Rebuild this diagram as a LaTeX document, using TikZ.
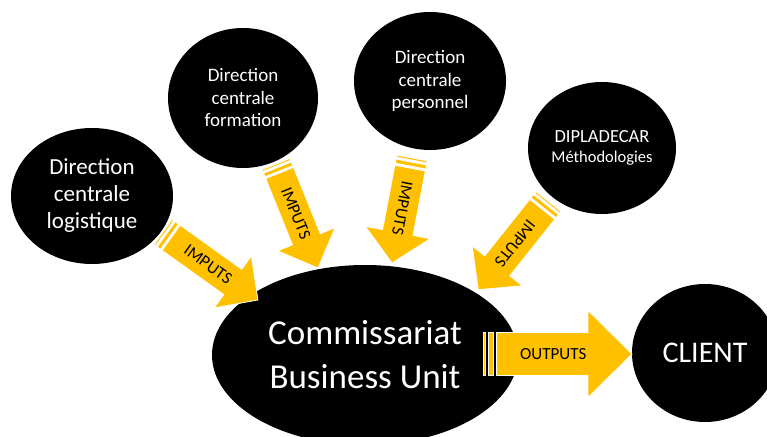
\documentclass[tikz,border=0pt]{standalone}
\usepackage{fontspec}
\setmainfont{Carlito}
\usetikzlibrary{shapes.geometric}
\definecolor{gold}{RGB}{255,192,0}
\tikzset{
  blob/.style={ellipse, fill=black, text=white, align=center, inner sep=0pt, outer sep=0pt},
  blockarrow/.style={fill=gold, draw=white, line width=0.8pt, line join=miter},
  arrowlabel/.style={font=\fontsize{17}{20}\selectfont, text=black, inner sep=0pt}
}
\newcommand{\stripedarrow}[7]{%
  \pgfmathanglebetweenpoints{\pgfpointanchor{#1}{center}}{\pgfpointanchor{#2}{center}}%
  \let\sarAng\pgfmathresult
  \pgfpointdiff{\pgfpointanchor{#1}{center}}{\pgfpointanchor{#2}{center}}%
  \pgfgetlastxy{\sarDx}{\sarDy}%
  \pgfmathsetmacro{\sarL}{veclen(\sarDx,\sarDy)}%
  \pgfmathsetmacro{\sarS}{#4/32}%
  \pgfmathsetmacro{\sarW}{#3/2}%
  \pgfmathsetmacro{\sarH}{#4/2}%
  \pgfmathsetmacro{\sarB}{\sarL-#5}%
  \pgfmathsetmacro{\sarM}{(5*\sarS+\sarL-#5/2)/2}%
  \begin{scope}[shift={(#1)}, rotate=\sarAng]
    \path[blockarrow] (0,-\sarW) rectangle (\sarS,\sarW);
    \path[blockarrow] (2*\sarS,-\sarW) rectangle (4*\sarS,\sarW);
    \path[blockarrow] (5*\sarS,-\sarW) -- (\sarB,-\sarW) -- (\sarB,-\sarH) -- (\sarL,0) -- (\sarB,\sarH) -- (\sarB,\sarW) -- (5*\sarS,\sarW) -- cycle;
    \node[arrowlabel, rotate=\sarAng] (#6) at (\sarM,0) {#7};
  \end{scope}}
\begin{document}
\begin{tikzpicture}[x=1pt, y=1pt]
\fill[white] (0,0) rectangle (767,436);
\useasboundingbox (0,0) rectangle (767,436);
% ellipses
\node[blob, minimum width=162, minimum height=136, font=\fontsize{23}{27}\selectfont] (log) at (92,240) {Direction\\centrale\\logistique};
\node[blob, minimum width=150, minimum height=140, font=\fontsize{19}{22.5}\selectfont] (form) at (243,338) {Direction\\centrale\\formation};
\node[blob, minimum width=152, minimum height=138, font=\fontsize{19}{22.5}\selectfont] (pers) at (430,355) {Direction\\centrale\\personnel};
\node[blob, minimum width=148, minimum height=132, font=\fontsize{16.5}{20}\selectfont] (dip) at (602,288) {{\fontsize{18.5}{20}\selectfont DIPLADECAR}\\[0pt]Méthodologies};
\node[blob, minimum width=306, minimum height=180, font=\fontsize{35}{44}\selectfont] (cbu) at (365,81) {Commissariat\\Business Unit};
\node[blob, minimum width=146, minimum height=138, font=\fontsize{30}{36}\selectfont] (client) at (705,83) {CLIENT};
% arrow ends
\coordinate (t1) at (163,204);   \coordinate (h1) at (258,136);
\coordinate (t2) at (276,272);   \coordinate (h2) at (318,168);
\coordinate (t3) at (412,278);   \coordinate (h3) at (392,173);
\coordinate (t4) at (548.5,234.5); \coordinate (h4) at (478,146);
\coordinate (t5) at (483,82);    \coordinate (h5) at (632,82);
% arrows
\stripedarrow{t1}{h1}{31}{64}{31}{l1}{IMPUTS}
\stripedarrow{t2}{h2}{30}{62}{31}{l2}{IMPUTS}
\stripedarrow{t3}{h3}{31}{66}{31}{l3}{IMPUTS}
\stripedarrow{t4}{h4}{32}{64}{30.5}{l4}{IMPUTS}
\stripedarrow{t5}{h5}{43}{87}{44}{l5}{OUTPUTS}
\end{tikzpicture}
\end{document}
